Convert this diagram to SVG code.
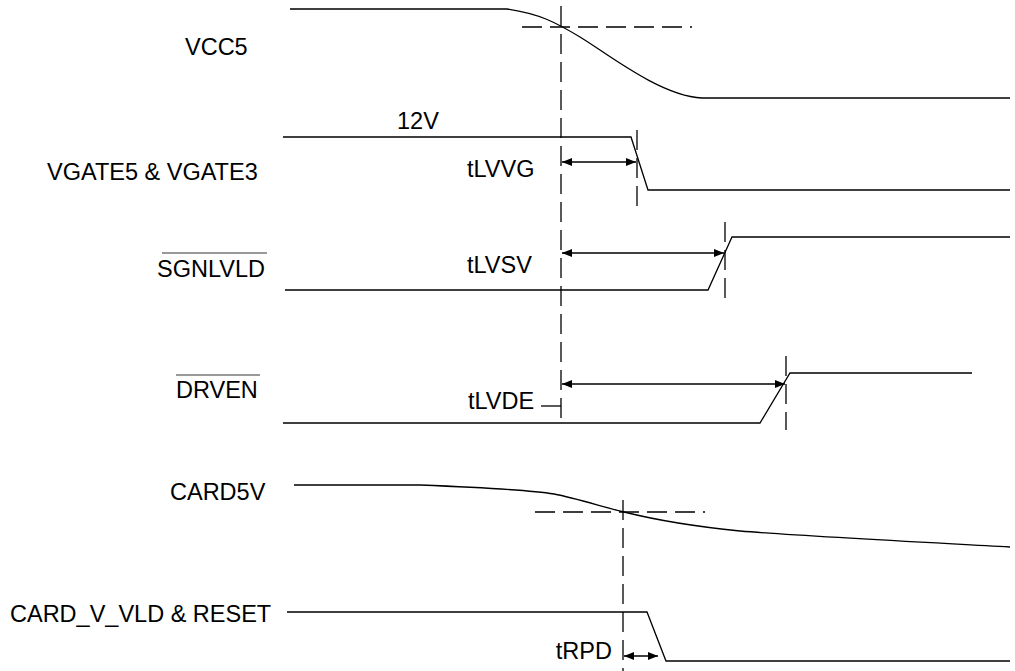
<svg xmlns="http://www.w3.org/2000/svg" width="1015" height="671" viewBox="0 0 1015 671">
<defs>
<style>
.lbl{font-family:"Liberation Sans",Arial,sans-serif;font-size:23.5px;fill:#000}
.wave{fill:none;stroke:#000;stroke-width:1.3}
.dash{fill:none;stroke:#000;stroke-width:1.3;stroke-dasharray:20 8}
.dim{fill:none;stroke:#000;stroke-width:1.3;marker-start:url(#ah);marker-end:url(#ah)}
.ovl{stroke:#777;stroke-width:1.5}
</style>
<marker id="ah" viewBox="0 0 10 8" refX="10" refY="4" markerWidth="11" markerHeight="8" markerUnits="userSpaceOnUse" orient="auto-start-reverse">
<path d="M0,0 L10,4 L0,8 z" fill="#000"/>
</marker>
</defs>
<rect width="1015" height="671" fill="#fff"/>

<g id="vcc5">
<text class="lbl" x="185" y="55">VCC5</text>
<path class="wave" d="M290,9 L507,9 C540,14 555,22 580,37 S660,96 702,98 L1010,98"/>
</g>

<g id="vgate">
<text class="lbl" x="47" y="180">VGATE5 &amp; VGATE3</text>
<text class="lbl" x="397" y="129">12V</text>
<path class="wave" d="M283,137 L631,137 L648,190 L1010,190"/>
</g>

<g id="sgnlvld">
<text class="lbl" x="157" y="277">SGNLVLD</text>
<line class="ovl" x1="162" y1="253" x2="267" y2="253"/>
<path class="wave" d="M285,290 L708,290 L732,237 L1010,237"/>
</g>

<g id="drven">
<text class="lbl" x="176" y="398">DRVEN</text>
<line class="ovl" x1="176" y1="375" x2="260" y2="375"/>
<path class="wave" d="M283,423 L760,423 L790,373 L972,373"/>
</g>

<g id="card5v">
<text class="lbl" x="170" y="500">CARD5V</text>
<path class="wave" d="M294,485 L420,485 C470,487 530,490 554,494 C575,498 600,506 624,512 C660,521 690,526 740,531 C800,536 900,541 1010,547"/>
</g>

<g id="card_v_vld">
<text class="lbl" x="10" y="622">CARD_V_VLD &amp; RESET</text>
<path class="wave" d="M287,612 L647,612 L666,661 L1010,661"/>
</g>

<g id="connectors">
<line class="dash" x1="561" y1="6" x2="561" y2="426"/>
<line class="dash" x1="522" y1="27" x2="692" y2="27"/>
<line class="dash" x1="637" y1="130" x2="637" y2="208"/>
<line class="dash" x1="725" y1="222" x2="725" y2="300"/>
<line class="dash" x1="786" y1="356" x2="786" y2="430"/>
<line class="dash" x1="535" y1="512" x2="705" y2="512"/>
<line class="dash" x1="623" y1="500" x2="623" y2="671"/>
<line class="dim" x1="562" y1="162" x2="636" y2="162"/>
<line class="dim" x1="562" y1="253" x2="724" y2="253"/>
<line class="dim" x1="562" y1="384" x2="785" y2="384"/>
<line class="dim" x1="624" y1="656" x2="658" y2="656"/>
<line class="wave" x1="541" y1="406" x2="561" y2="406"/>
<text class="lbl" x="467" y="177">tLVVG</text>
<text class="lbl" x="467" y="273">tLVSV</text>
<text class="lbl" x="468" y="409">tLVDE</text>
<text class="lbl" x="612" y="659" text-anchor="end">tRPD</text>
</g>
</svg>
